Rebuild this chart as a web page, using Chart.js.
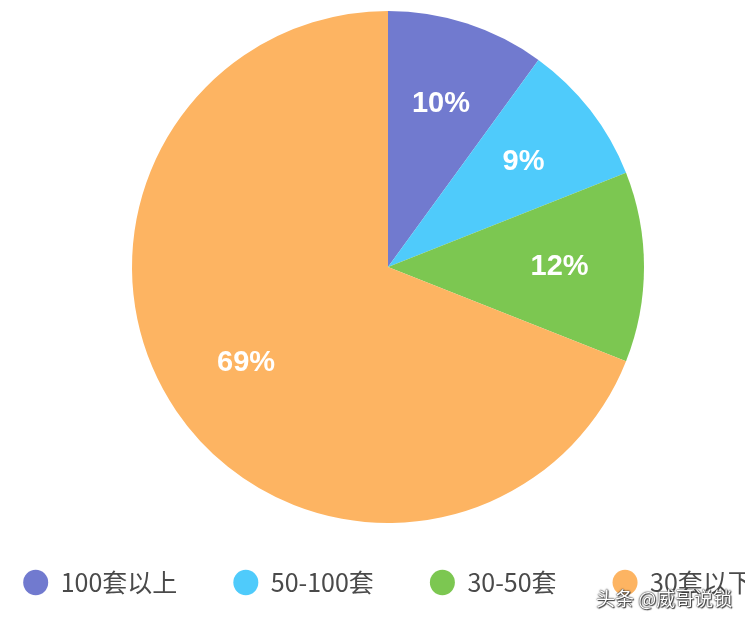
<!DOCTYPE html>
<html>
<head>
<meta charset="utf-8">
<script src="https://cdn.jsdelivr.net/npm/chart.js@4.4.1/dist/chart.umd.min.js"></script>
<style>
  html, body { margin: 0; padding: 0; background: #fff; overflow: hidden; }
  body { width: 745px; height: 622px; position: relative; }
  #wrap { position: absolute; left: -62px; top: 0; width: 900px; height: 622px; }
  .mark {
    position: absolute; left: 596px; top: 584px;
    font: 19px "Noto Sans CJK SC", sans-serif; color: #fff;
    text-shadow: 0 0 2px #333, 0 0 1px #000, 1px 1px 1px #444;
    white-space: nowrap;
  }
</style>
</head>
<body>
<div id="wrap"><canvas id="pieChart" width="900" height="622"></canvas></div>
<div class="mark">头条 @威哥说锁</div>
<script>
// pie data
const labels = ['100套以上', '50-100套', '30-50套', '30套以下'];
const values = [10, 9, 12, 69];
const colors = ['#717ACF', '#4FCBFB', '#7CC751', '#FDB462'];

// draws the white percent text inside every slice
const sliceText = {
  id: 'sliceText',
  afterDatasetsDraw(chart) {
    const ctx = chart.ctx;
    const meta = chart.getDatasetMeta(0);
    ctx.save();
    ctx.fillStyle = '#fff';
    ctx.font = 'bold 29px "Liberation Sans", Arial, sans-serif';
    ctx.textAlign = 'center';
    ctx.textBaseline = 'middle';
    meta.data.forEach((arc, i) => {
      const p = arc.getProps(['x', 'y', 'startAngle', 'endAngle', 'outerRadius'], true);
      const mid = (p.startAngle + p.endAngle) / 2;
      const r = p.outerRadius * 0.67;
      ctx.fillText(values[i] + '%', p.x + Math.cos(mid) * r, p.y + Math.sin(mid) * r);
    });
    ctx.restore();
  }
};

const ctx = document.getElementById('pieChart').getContext('2d');
new Chart(ctx, {
  type: 'pie',
  data: {
    labels: labels,
    datasets: [{
      data: values,
      backgroundColor: colors,
      borderWidth: 0,
      radius: 256,
      clip: false
    }]
  },
  options: {
    responsive: false,
    animation: false,
    layout: { padding: { top: 20, bottom: 17 } },
    plugins: {
      tooltip: { enabled: false },
      legend: {
        position: 'bottom',
        labels: {
          usePointStyle: true,
          pointStyle: 'circle',
          pointStyleWidth: 25,
          boxHeight: 18,
          padding: 56,
          color: '#4a4a4a',
          font: { size: 25, family: '"Noto Sans CJK SC", sans-serif' }
        }
      }
    }
  },
  plugins: [sliceText]
});
</script>
</body>
</html>
